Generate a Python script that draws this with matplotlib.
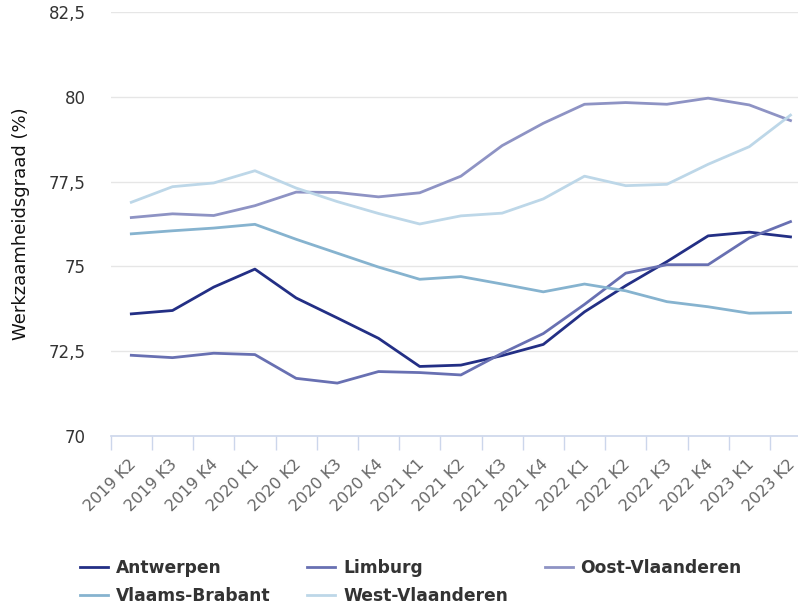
import numpy as np
import matplotlib
matplotlib.use('Agg')
import matplotlib.pyplot as plt
import matplotlib.transforms as mtransforms

# =============================================================================
# Data
# =============================================================================
quarters = ['2019 K2', '2019 K3', '2019 K4', '2020 K1', '2020 K2', '2020 K3',
            '2020 K4', '2021 K1', '2021 K2', '2021 K3', '2021 K4', '2022 K1',
            '2022 K2', '2022 K3', '2022 K4', '2023 K1', '2023 K2']

antwerpen       = [73.60, 73.70, 74.39, 74.92, 74.07, 73.48, 72.88, 72.05, 72.09,
                   72.37, 72.70, 73.66, 74.43, 75.14, 75.90, 76.01, 75.87]
limburg         = [72.38, 72.31, 72.44, 72.40, 71.70, 71.56, 71.90, 71.87, 71.80,
                   72.44, 73.02, 73.88, 74.80, 75.05, 75.05, 75.84, 76.32]
oost_vlaanderen = [76.44, 76.55, 76.50, 76.79, 77.19, 77.18, 77.05, 77.17, 77.66,
                   78.56, 79.22, 79.78, 79.83, 79.78, 79.96, 79.76, 79.30]
vlaams_brabant  = [75.96, 76.05, 76.13, 76.24, 75.80, 75.39, 74.98, 74.62, 74.70,
                   74.48, 74.25, 74.48, 74.28, 73.96, 73.81, 73.62, 73.64]
west_vlaanderen = [76.89, 77.35, 77.46, 77.82, 77.31, 76.91, 76.56, 76.25, 76.49,
                   76.57, 76.99, 77.66, 77.38, 77.42, 78.01, 78.53, 79.46]

yticks      = [70, 72.5, 75, 77.5, 80, 82.5]
ytick_names = ['70', '72,5', '75', '77,5', '80', '82,5']

series = [('Antwerpen',       antwerpen,       '#232f85'),
          ('Limburg',         limburg,         '#6870b2'),
          ('Oost-Vlaanderen', oost_vlaanderen, '#8e93c4'),
          ('Vlaams-Brabant',  vlaams_brabant,  '#86b3cf'),
          ('West-Vlaanderen', west_vlaanderen, '#bdd7e8')]

# =============================================================================
# Plot
# =============================================================================
plt.rcParams['font.family'] = ['DejaVu Sans']

fig = plt.figure(figsize=(7.98, 6.06), dpi=100)
ax_w = 700.4
ax = fig.add_axes([110.7/798, 170/606, ax_w/798, 424/606])

x = np.arange(len(quarters))
lines = {}
for name, values, color in series:
    lines[name], = ax.plot(x, values, color=color, lw=2.0, label=name)

ax.set_xlim(-0.5, len(quarters) - 0.5)
ax.set_ylim(70, 82.5)

ax.set_yticks(yticks)
ax.set_yticklabels(ytick_names, fontsize=12, color='#333333')
ax.tick_params(axis='y', length=0, pad=18)
ax.grid(axis='y', color='#e6e6e6', lw=1)
ax.set_axisbelow(True)

ax.set_xticks(x)
ax.set_xticklabels(quarters, rotation=45, ha='right', rotation_mode='anchor',
                   fontsize=11.5, color='#666666')
ax.tick_params(axis='x', length=0, pad=15)
shift = mtransforms.ScaledTranslation(-3/100, 0, fig.dpi_scale_trans)
for lbl in ax.get_xticklabels():
    lbl.set_transform(lbl.get_transform() + shift)
ax.set_xticks(np.arange(len(quarters) + 1) - 0.5, minor=True)
ax.tick_params(axis='x', which='minor', length=10, color='#ccd6eb', width=1)

for side in ['top', 'right', 'left']:
    ax.spines[side].set_visible(False)
ax.spines['bottom'].set_color('#ccd6eb')
ax.spines['bottom'].set_linewidth(1.2)

ax.set_ylabel('Werkzaamheidsgraad (%)', fontsize=13, color='#111111')
ax.yaxis.set_label_coords((30 - 110.7)/ax_w, 0.5)

order = ['Antwerpen', 'Vlaams-Brabant', 'Limburg', 'West-Vlaanderen', 'Oost-Vlaanderen']
fig.legend([lines[n] for n in order], order, ncol=3, loc='lower left',
           bbox_to_anchor=(68/798, -0.018), frameon=False,
           prop={'size': 12.3, 'weight': 'bold'}, labelcolor='#333333',
           handlelength=1.65, handletextpad=0.45, columnspacing=2.15,
           labelspacing=0.6, borderaxespad=0.3)

fig.savefig('out.png', dpi=100)
